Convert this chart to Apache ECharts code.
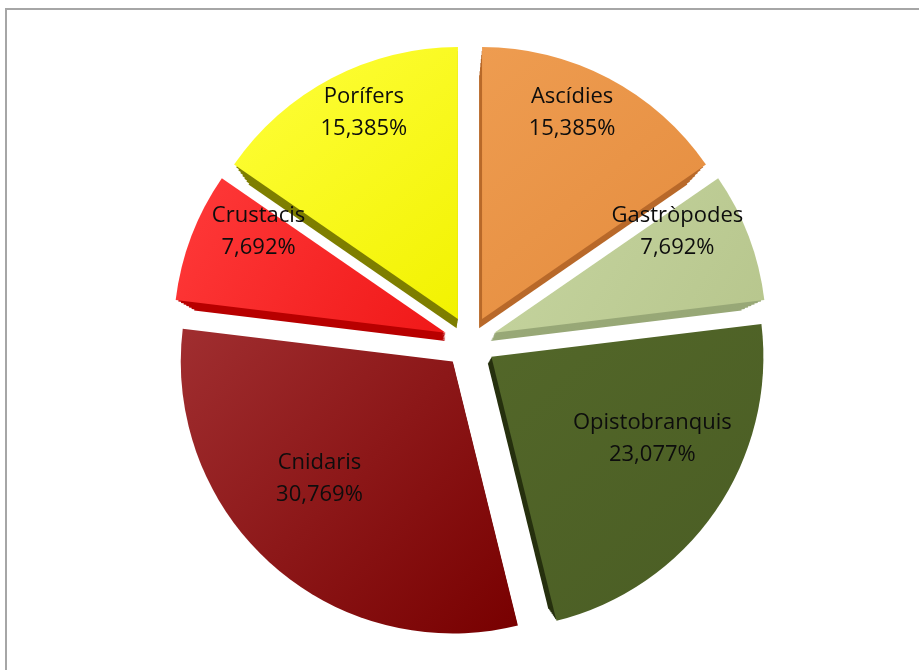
<!DOCTYPE html>
<html>
<head>
<meta charset="utf-8">
<title>Distribució per grups</title>
<script src="https://cdn.jsdelivr.net/npm/echarts@6/dist/echarts.min.js"></script>
<style>
  html, body { margin: 0; padding: 0; background: #ffffff; }
  #chart { width: 919px; height: 670px; }
</style>
</head>
<body>
<div id="chart"></div>
<script>
// Groups, clockwise from 12 o'clock
const categories = ['Ascídies', 'Gastròpodes', 'Opistobranquis', 'Cnidaris', 'Crustacis', 'Porífers'];
const counts = [2, 1, 3, 4, 1, 2];

// Top face colours (light -> dark for the gradient) and side colours
const faceLight = ['#EE9C50', '#C6D5A0', '#536729', '#A02E30', '#FF3A3A', '#FFFF3C'];
const faceDark  = ['#E48C3E', '#B7C68D', '#4A5D24', '#780000', '#F01818', '#F2F200'];
const sideColors = ['#B8692A', '#98A877', '#27310F', '#560000', '#B80000', '#7E7E00'];

const cx = 470, cy = 342;       // pie centre
const R = 272;                  // radius
const explode = 26;             // slice separation
const vx = 440, vy = 450;       // point the extruded back face shrinks toward
const depthSteps = [0.93, 0.94, 0.95, 0.96, 0.97, 0.98, 0.99];
const labelCenter = [468, 311]; // labels sit a little higher, as on a tilted disc
const labelRing = [140, 250];

const chart = echarts.init(document.getElementById('chart'), null, { renderer: 'canvas' });

function pieData(styleFor) {
  return categories.map((name, i) => ({
    name: name,
    value: counts[i],
    selected: true,
    itemStyle: styleFor(i)
  }));
}

const common = {
  type: 'pie',
  startAngle: 90,
  clockwise: true,
  selectedMode: 'multiple',
  animation: false,
  silent: true,
  labelLine: { show: false },
  emphasis: { disabled: true },
  select: { itemStyle: { borderWidth: 0 } },
  percentPrecision: 3
};

const series = [];

// extruded sides: stacked back faces shrinking toward (vx, vy)
depthSteps.forEach(k => {
  series.push(Object.assign({}, common, {
    name: 'side' + k,
    center: [vx + k * (cx - vx), vy + k * (cy - vy)],
    radius: [0, k * R],
    selectedOffset: k * explode,
    label: { show: false },
    data: pieData(i => ({ color: sideColors[i], borderWidth: 0 }))
  }));
});

// top faces
series.push(Object.assign({}, common, {
  name: 'face',
  center: [cx, cy],
  radius: [0, R],
  selectedOffset: explode,
  label: { show: false },
  data: pieData(i => ({
    borderWidth: 0,
    color: new echarts.graphic.LinearGradient(0, 0, 1, 1, [
      { offset: 0, color: faceLight[i] },
      { offset: 1, color: faceDark[i] }
    ])
  }))
}));

// labels
series.push(Object.assign({}, common, {
  name: 'labels',
  center: labelCenter,
  radius: labelRing,
  selectedOffset: explode,
  label: {
    show: true,
    position: 'inside',
    fontFamily: 'Open Sans',
    fontSize: 22,
    lineHeight: 32,
    color: '#0d0d0d',
    formatter: p => p.name + '\n' + p.percent.toFixed(3).replace('.', ',') + '%'
  },
  data: pieData(() => ({ color: 'rgba(0,0,0,0)', borderWidth: 0 }))
}));

chart.setOption({
  backgroundColor: '#ffffff',
  animation: false,
  graphic: [{
    type: 'rect',
    silent: true,
    shape: { x: 6, y: 9, width: 1000, height: 1000 },
    style: { fill: 'none', stroke: '#a6a6a6', lineWidth: 2 }
  }],
  series: series
});
</script>
</body>
</html>
